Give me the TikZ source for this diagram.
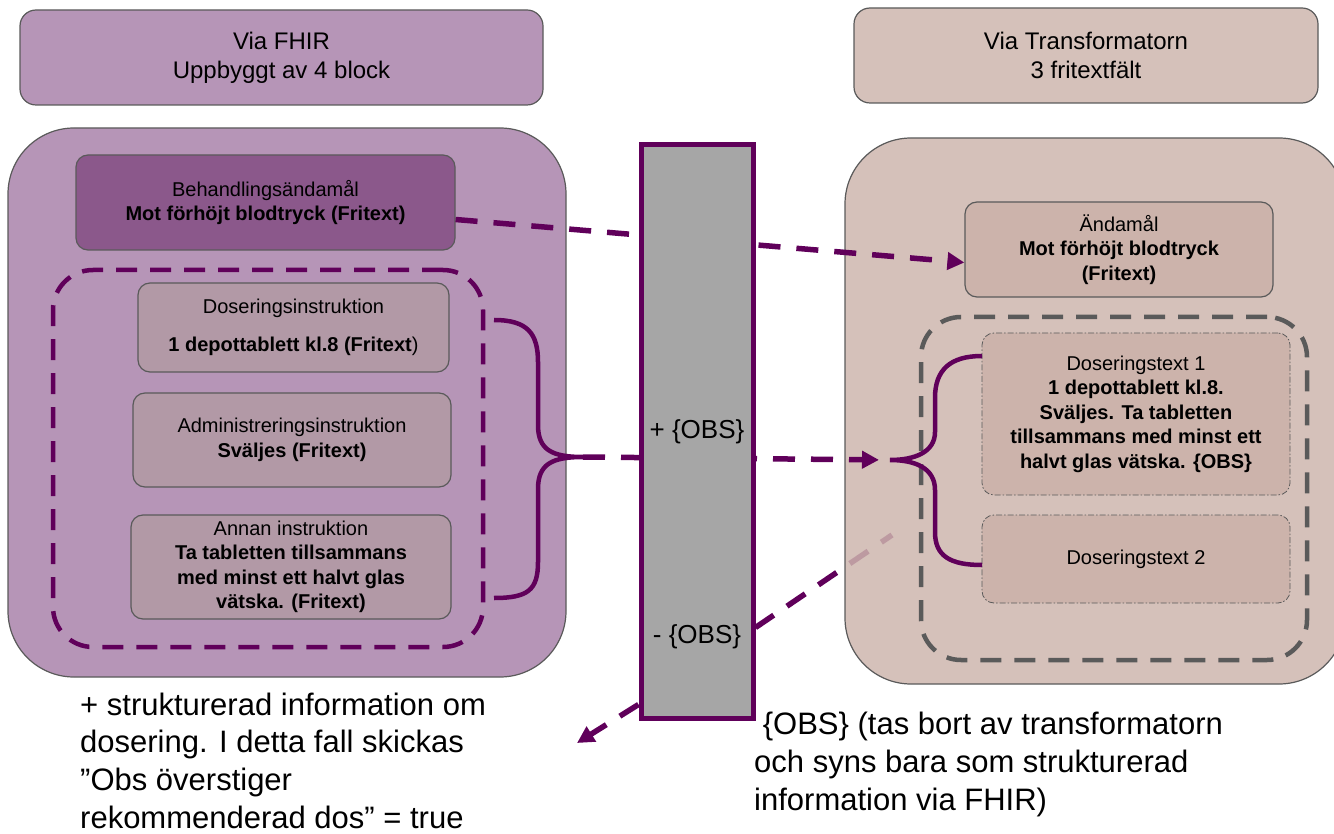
\documentclass[tikz,border=0pt]{standalone}
\usepackage{fontspec}
\setmainfont{Liberation Sans}
\usetikzlibrary{arrows.meta}
\usetikzlibrary{backgrounds}
\definecolor{fhirbg}{RGB}{182,149,183}
\definecolor{fhirdark}{RGB}{139,88,139}
\definecolor{fhirbox}{RGB}{178,153,166}
\definecolor{trbg}{RGB}{213,193,186}
\definecolor{trbgx}{RGB}{206,182,174}
\definecolor{trbox}{RGB}{204,179,171}
\definecolor{plum}{RGB}{96,0,90}
\definecolor{edge}{RGB}{90,90,90}
\definecolor{barfill}{RGB}{166,166,166}
\tikzset{cell/.style={rectangle, rounded corners=12pt, draw=edge, line width=1.2pt,
   align=center, inner sep=0pt, font=\fontsize{20}{24.5}\selectfont}}
\tikzset{head/.style={cell, rounded corners=16pt, font=\fontsize{24}{29}\selectfont}}
\tikzset{group/.style={rectangle, rounded corners=66pt, draw=edge, line width=1.2pt}}
\tikzset{dosbox/.style={cell, fill=trbox, line width=0.8pt,
   dash pattern=on 6pt off 2pt on 1.5pt off 2pt}}
\tikzset{ring/.style={rectangle, rounded corners=40pt, line width=4.5pt,
   dash pattern=on 21pt off 13pt}}
\tikzset{flow/.style={plum, line width=5.5pt, dash pattern=on 22pt off 16pt}}
\tikzset{brace/.style={plum, line width=4.5pt}}
\tikzset{tip/.style={-{Triangle[length=17pt,width=17pt]}}}

\begin{document}
\begin{tikzpicture}[x=1pt, y=-1pt]

    \useasboundingbox (0,0) rectangle (1334,834);

    % headers
    \node[head, fill=fhirbg, minimum width=523pt, minimum height=95pt] (hfhir) at (281.5,57.5) {Via FHIR\\Uppbyggt av 4 block};
    \node[head, fill=trbg, minimum width=464pt, minimum height=95pt] (htrans) at (1086,55.5) {Via Transformatorn\\3 fritextfält};

    % FHIR side
    \node[group, fill=fhirbg, minimum width=558pt, minimum height=549pt] (fhir) at (287,402.5) {};
    \node[cell, fill=fhirdark, minimum width=379pt, minimum height=95pt] (beh) at (265.5,202.5) {Behandlingsändamål\\\textbf{Mot förhöjt blodtryck (Fritext)}};
    \node[ring, draw=plum, minimum width=430pt, minimum height=377pt] (fgroup) at (268,458.5) {};
    \node[cell, fill=fhirbox, minimum width=311pt, minimum height=89pt] (dos) at (293.5,327.5) {Doseringsinstruktion\\[13pt]\textbf{1 depottablett kl.8 (Fritext}{)}};
    \node[cell, fill=fhirbox, minimum width=318pt, minimum height=94pt] (adm) at (292,440) {Administreringsinstruktion\\\textbf{Sväljes (Fritext)}};
    \node[cell, fill=fhirbox, minimum width=320pt, minimum height=104pt] (ann) at (291,567) {Annan instruktion\\\textbf{Ta tabletten tillsammans}\\\textbf{med minst ett halvt glas}\\\textbf{vätska. (Fritext)}};
    \draw[brace] (494,320) .. controls (528,320) and (538,334) .. (538,362) -- (538,425)
       .. controls (538,450) and (552,457) .. (583,457)
       .. controls (552,457) and (538,464) .. (538,489) -- (538,562)
       .. controls (538,590) and (528,598) .. (494,598);
    \coordinate (ltip) at (583,457);

    % Transformator side
    \node[cell, fill=trbox, minimum width=308pt, minimum height=95pt] (andm) at (1119,249.5) {Ändamål\\\textbf{Mot förhöjt blodtryck}\\\textbf{(Fritext)}};
    \node[ring, draw=edge, minimum width=386pt, minimum height=343pt] (tgroup) at (1114,488.5) {};
    \node[dosbox, minimum width=308pt, minimum height=162pt] (dtext1) at (1136,414) {Doseringstext 1\\\textbf{1 depottablett kl.8.}\\\textbf{Sväljes. Ta tabletten}\\\textbf{tillsammans med minst ett}\\\textbf{halvt glas vätska. \{OBS\}}};
    \node[dosbox, minimum width=308pt, minimum height=88pt] (dtext2) at (1136,559) {Doseringstext 2};
    \draw[brace] (982,356) .. controls (950,356) and (935,370) .. (935,398) -- (935,432)
       .. controls (935,452) and (915,460) .. (890,460)
       .. controls (915,460) and (935,468) .. (935,490) -- (935,532)
       .. controls (935,556) and (950,565) .. (982,565);
    \coordinate (rtip) at (890,460);
    \coordinate (fend) at (892,535);
    \coordinate (dl) at (577,743);

    % connectors
    \draw[flow, tip] ([yshift=-17pt]beh.east) -- ([yshift=-13pt]andm.west);
    \draw[flow, tip, shorten >=11pt] (ltip) -- (rtip);

    % transformer bar
    \node[rectangle, draw=plum, line width=5pt, fill=barfill, minimum width=112pt, minimum height=573pt] (bar) at (697,431.5) {};
    \node[font=\fontsize{26}{30}\selectfont] (plus) at (697,432) {+ \{OBS\}};
    \node[font=\fontsize{26}{30}\selectfont] (minus) at (697,637) {- \{OBS\}};
    \draw[flow, tip] ([yshift=16pt]bar.south west) -- (dl);

    \begin{scope}[on background layer]
      \draw[flow] ([yshift=93pt]bar.south east) -- (fend);
      \node[group, fill=trbgx, fill opacity=0.85, minimum width=500pt, minimum height=546pt] (trans) at (1095,411) {};
    \end{scope}

    % notes
    \node[anchor=north west, align=left, inner sep=0pt, font=\fontsize{31}{37.7}\selectfont] (noteL) at (80,688.5) {\strut+ strukturerad information om\\dosering. I detta fall skickas\\”Obs överstiger\\rekommenderad dos” = true};
    \node[anchor=north west, align=left, inner sep=0pt, font=\fontsize{31}{38}\selectfont] (noteR) at (754,708) {\strut\ \{OBS\} (tas bort av transformatorn\\och syns bara som strukturerad\\information via FHIR)};

\end{tikzpicture}
\end{document}
